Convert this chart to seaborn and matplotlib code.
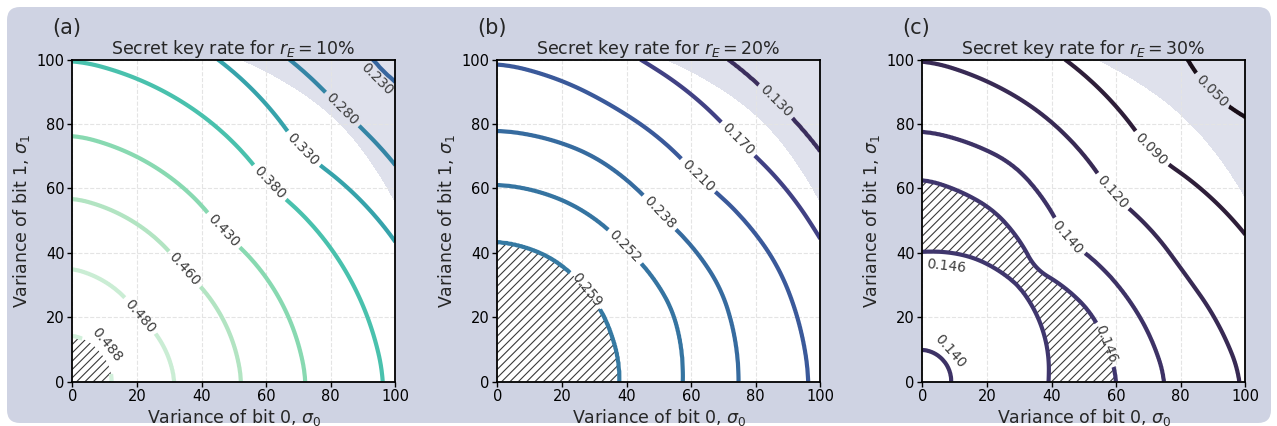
import numpy as np
import matplotlib
matplotlib.use("Agg")
import matplotlib.pyplot as plt
import matplotlib.colors as mcolors
from matplotlib.patches import FancyBboxPatch
import seaborn as sns

# ---------------- data ----------------
ANGLES = [0.0, 22.5, 45.0, 67.5, 90.0]          # ray angles (deg) where contour radii were read
PANEL_TAGS = ["(a)", "(b)", "(c)"]
EVE_RATES = [10, 20, 30]                          # r_E in percent

# panel (a)
A_LEVELS = [0.230, 0.280, 0.330, 0.380, 0.430, 0.460, 0.480, 0.488]
A_KNOT_VALUES = [0.488, 0.480, 0.460, 0.430, 0.380, 0.330, 0.280, 0.230]
A_KNOT_RADII = [
    [12.2, 12.3, 12.4, 13.3, 14.2],
    [31.6, 30.2, 28.9, 32.0, 35.0],
    [52.3, 50.5, 48.8, 52.8, 56.9],
    [72.3, 69.0, 65.6, 71.0, 76.5],
    [96.4, 91.2, 86.0, 92.9, 99.8],
    [118.0, 109.4, 100.4, 110.5, 120.0],
    [126.0, 122.5, 118.5, 122.5, 126.0],
    [165.0, 150.0, 134.5, 150.0, 165.0],
]
A_CENTER, A_FAR = 0.490, 0.150
A_HATCH_ABOVE = 0.488
A_SHADE_RADII = [111.0, 114.0, 115.5, 112.0, 109.0]

# panel (b)
B_LEVELS = [0.130, 0.170, 0.210, 0.238, 0.252, 0.259]
B_KNOT_VALUES = [0.259, 0.252, 0.238, 0.210, 0.170, 0.130]
B_KNOT_RADII = [
    [37.8, 38.2, 39.5, 41.8, 43.4],
    [57.4, 58.4, 57.5, 59.6, 61.1],
    [74.7, 74.8, 72.2, 76.0, 77.9],
    [96.4, 93.8, 88.7, 92.5, 98.8],
    [118.0, 109.5, 105.5, 109.5, 118.0],
    [125.0, 123.5, 122.4, 123.5, 125.0],
]
B_CENTER, B_FAR = 0.262, 0.050
B_HATCH_ABOVE = 0.259
B_SHADE_RADII = [111.0, 114.0, 115.5, 112.0, 109.0]

# panel (c)  (field rises to a ridge between the two 0.146 contours)
C_LEVELS = [0.050, 0.090, 0.120, 0.140, 0.146]
C_KNOT_VALUES = [0.140, 0.146, 0.148, 0.146, 0.140, 0.120, 0.090, 0.050]
C_KNOT_RADII = [
    [8.9, 9.0, 9.2, 9.5, 9.8],
    [39.0, 40.5, 42.0, 41.5, 40.2],
    [49.6, 48.4, 45.6, 49.5, 51.5],
    [60.2, 56.2, 49.2, 57.4, 62.8],
    [75.2, 68.5, 62.5, 73.0, 77.8],
    [98.8, 87.5, 82.4, 91.5, 99.8],
    [121.7, 110.9, 100.0, 109.9, 119.7],
    [160.0, 142.5, 125.0, 142.5, 160.0],
]
C_CENTER, C_FAR = 0.137, 0.000
C_HATCH_ABOVE = 0.146
C_SHADE_RADII = [112.0, 115.0, 115.5, 113.0, 110.0]

PANELS = [
    (A_LEVELS, A_KNOT_VALUES, A_KNOT_RADII, A_CENTER, A_FAR, A_HATCH_ABOVE, A_SHADE_RADII),
    (B_LEVELS, B_KNOT_VALUES, B_KNOT_RADII, B_CENTER, B_FAR, B_HATCH_ABOVE, B_SHADE_RADII),
    (C_LEVELS, C_KNOT_VALUES, C_KNOT_RADII, C_CENTER, C_FAR, C_HATCH_ABOVE, C_SHADE_RADII),
]

# label placement (styling): (anchor on contour, inline gap, final text centre or None)
LABELS = [
    [((95.5, 95.5), False, (94.2, 93.9)),
     ((82.5, 83.5), True, None),
     ((70.6, 71.4), True, None),
     ((59.7, 60.5), True, None),
     ((46.3, 46.5), True, None),
     ((34.4, 34.6), True, None),
     ((20.7, 20.2), True, None),
     ((9.4, 9.4), True, (10.6, 11.3))],
    [((86.6, 87.4), True, None),
     ((74.7, 75.5), True, None),
     ((61.8, 63.6), True, None),
     ((49.9, 52.2), True, None),
     ((39.0, 41.4), True, None),
     ((28.2, 29.0), True, None)],
    [((88.1, 88.9), True, None),
     ((70.0, 71.4), True, None),
     ((58.2, 58.4), True, None),
     ((44.7, 44.5), True, None),
     ((60.2, 12.9), True, None),
     ((7.5, 40.0), False, (7.5, 35.7)),
     ((6.6, 6.6), False, (8.6, 9.3))],
]

# ---------------- styling ----------------
sns.set_theme(style="white")
HATCH_COLOR = "#3a3a3a"
plt.rcParams.update({
    "font.family": ["DejaVu Sans"],
    "axes.axisbelow": "line",
    "hatch.color": HATCH_COLOR,
    "hatch.linewidth": 0.8,
    "xtick.bottom": True,
    "ytick.left": True,
})
CMAP = sns.color_palette("mako", as_cmap=True)
VMIN, VMAX = 0.025, 0.5
BG = "#cfd3e3"
SHADE = "#dfe1ec"

W, H = 1277, 426
fig = plt.figure(figsize=(W / 100, H / 100), dpi=100)
fig.patch.set_facecolor("white")
fig.patches.append(FancyBboxPatch((0.07, 0.03), 12.64, 4.16,
                                  boxstyle="round,pad=0,rounding_size=0.13",
                                  transform=fig.dpi_scale_trans,
                                  facecolor=BG, edgecolor="none", zorder=-10))

grid = np.linspace(0, 100, 401)
GX, GY = np.meshgrid(grid, grid)
GR = np.hypot(GX, GY)
GT = np.degrees(np.arctan2(GY, GX))
fine_t = np.linspace(-40, 130, 681)
kernel = np.ones(41) / 41.0


def radius_on_grid(row):
    r_fine = np.interp(fine_t, ANGLES, row)
    r_fine = np.convolve(np.pad(r_fine, 20, mode="edge"), kernel, mode="valid")
    return np.interp(GT, fine_t, r_fine)


def build_field(values, radii, center, far):
    rk = [np.zeros_like(GR)] + [radius_on_grid(r) for r in radii] + [np.full_like(GR, 300.0)]
    vk = [center] + list(values) + [far]
    Z = np.full_like(GR, far)
    for i in range(len(rk) - 1):
        m = (GR >= rk[i]) & (GR < rk[i + 1])
        frac = (GR - rk[i]) / (rk[i + 1] - rk[i])
        Z[m] = (vk[i] + (vk[i + 1] - vk[i]) * frac)[m]
    return Z


lefts = [72.3, 497.3, 922.3]
for i, (levels, kvals, kradii, center, far, hatch_above, shade_r) in enumerate(PANELS):
    ax = fig.add_axes([lefts[i] / W, (H - 381.5) / H, 323 / W, 322 / H])
    ax.set_facecolor("white")

    shade_field = GR / radius_on_grid(shade_r)
    ax.contourf(GX, GY, shade_field, levels=[1.0, 10.0], colors=[SHADE], zorder=0.6)

    Z = build_field(kvals, kradii, center, far)
    hs = ax.contourf(GX, GY, Z, levels=[hatch_above, 1.0], colors=["white"],
                     hatches=["////"], zorder=1.6)
    if hasattr(hs, "set_hatchcolor"):
        hs.set_hatchcolor(HATCH_COLOR)
    else:
        hs._hatch_color = mcolors.to_rgba(HATCH_COLOR)
    hs.set_edgecolor(HATCH_COLOR)
    hs.set_linewidth(0.0)

    cs = ax.contour(GX, GY, Z, levels=levels, cmap=CMAP, vmin=VMIN, vmax=VMAX,
                    linewidths=3.0, zorder=2)
    for anchor, inline, final in LABELS[i]:
        txts = ax.clabel(cs, inline=inline, fmt="%.3f", fontsize=10,
                         colors="#3c3c3c", manual=[anchor], inline_spacing=4)
        if final is not None and len(txts):
            txts[-1].set_position(final)

    ax.set_xlim(0, 100)
    ax.set_ylim(0, 100)
    ax.set_xticks([0, 20, 40, 60, 80, 100])
    ax.set_yticks([0, 20, 40, 60, 80, 100])
    ax.grid(True, color="#e4e4e4", linestyle="--", linewidth=0.8)
    ax.tick_params(axis="both", labelsize=10.5, length=3.5, width=1.0, pad=2,
                   colors="black", direction="out")
    for s in ax.spines.values():
        s.set_color("black")
        s.set_linewidth(1.3)
    ax.set_xlabel(r"Variance of bit 0, $\sigma_0$", fontsize=12.5, labelpad=2)
    ax.set_ylabel(r"Variance of bit 1, $\sigma_1$", fontsize=12.5, labelpad=3)
    ax.set_title(rf"Secret key rate for $r_E = {EVE_RATES[i]}\%$", fontsize=12.5, pad=4)
    ax.text(-0.062, 1.13, PANEL_TAGS[i], transform=ax.transAxes, fontsize=15,
            ha="left", va="top")

fig.savefig("out.png", dpi=100, facecolor="white")
